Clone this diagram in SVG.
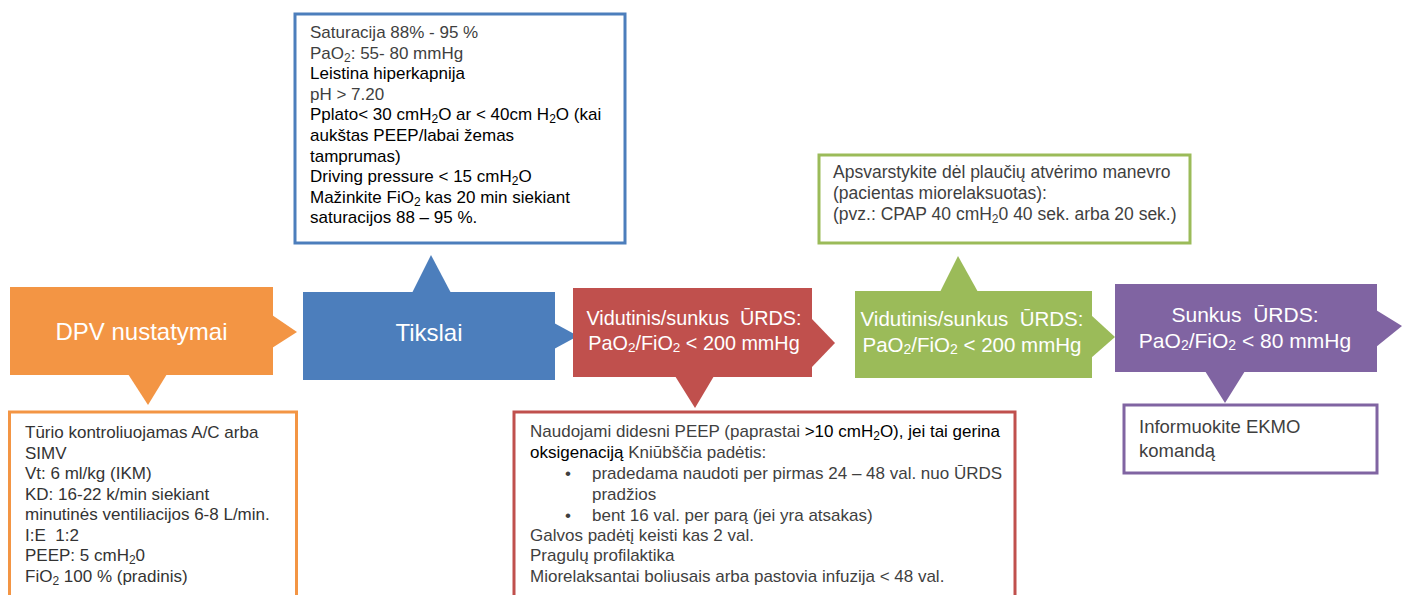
<svg xmlns="http://www.w3.org/2000/svg" width="1407" height="595" viewBox="0 0 1407 595">
<style>
text{font-family:"Liberation Sans",Arial,sans-serif}
.t{font-size:17px;fill:#000}
.g{fill:#3f3f3f}
.k{fill:#000}
.w{fill:#fff;text-anchor:middle}
.box{fill:#fff;stroke-width:3}
.or{fill:#F39544}.bl{fill:#4C7EBC}.rd{fill:#C0504D}.gr{fill:#9BBB59}.pu{fill:#8064A2}
</style>
<rect width="1407" height="595" fill="#fff"/>
<g id="connectors">
<polygon class="or" points="272,315 297,332 272,348"/>
<polygon class="or" points="128,374 148,405 167,374"/>
<polygon class="bl" points="554,323 578,336 554,349"/>
<polygon class="bl" points="412,293 431,255 451,293"/>
<polygon class="rd" points="811,318 835,343 811,368"/>
<polygon class="rd" points="675,376 695,408 714,376"/>
<polygon class="gr" points="1091,315 1115,337 1091,358"/>
<polygon class="gr" points="940,292 958,256 978,292"/>
<polygon class="pu" points="1376,310 1402,326 1376,347"/>
<polygon class="pu" points="1205,371 1225,403 1245,371"/>
</g>
<g id="dpv">
<rect class="or" x="10" y="287" width="263" height="88"/>
<text class="w" x="141.5" y="340" font-size="24">DPV nustatymai</text>
</g>
<g id="tikslai">
<rect class="bl" x="303" y="292" width="252" height="88"/>
<text class="w" x="429" y="341" font-size="24">Tikslai</text>
</g>
<g id="vidutinis1">
<rect class="rd" x="573" y="288" width="239" height="89"/>
<text class="w" x="694" y="325" font-size="19.8">Vidutinis/sunkus&#160; ŪRDS:</text>
<text class="w" x="694" y="350" font-size="19.8">PaO<tspan font-size="13.5" dy="2">2</tspan><tspan dy="-2">/FiO</tspan><tspan font-size="13.5" dy="2">2</tspan><tspan dy="-2"> &lt; 200 mmHg</tspan></text>
</g>
<g id="vidutinis2">
<rect class="gr" x="855" y="291" width="237" height="87"/>
<text class="w" x="972" y="326" font-size="20.5">Vidutinis/sunkus&#160; ŪRDS:</text>
<text class="w" x="972" y="352" font-size="20.5">PaO<tspan font-size="14" dy="2">2</tspan><tspan dy="-2">/FiO</tspan><tspan font-size="14" dy="2">2</tspan><tspan dy="-2"> &lt; 200 mmHg</tspan></text>
</g>
<g id="sunkus">
<rect class="pu" x="1115" y="284" width="262" height="88"/>
<text class="w" x="1245" y="322" font-size="21">Sunkus&#160; ŪRDS:</text>
<text class="w" x="1245" y="348" font-size="21">PaO<tspan font-size="14" dy="2">2</tspan><tspan dy="-2">/FiO</tspan><tspan font-size="14" dy="2">2</tspan><tspan dy="-2"> &lt; 80 mmHg</tspan></text>
</g>
<g id="tikslai-box">
<rect class="box" x="295" y="14" width="330" height="229" stroke="#4C7EBC"/>
<text class="t" x="310">
<tspan class="g" x="310" y="38">Saturacija 88% - 95 %</tspan>
<tspan class="g" x="310" y="58.6">PaO<tspan font-size="12" dy="3">2</tspan><tspan dy="-3">: 55- 80 mmHg</tspan></tspan>
<tspan class="k" x="310" y="79.2">Leistina hiperkapnija</tspan>
<tspan class="g" x="310" y="99.8">pH &gt; 7.20</tspan>
<tspan class="k" x="310" y="120.4">Pplato&lt; 30 cmH<tspan font-size="12" dy="3">2</tspan><tspan dy="-3">O ar &lt; 40cm H</tspan><tspan font-size="12" dy="3">2</tspan><tspan dy="-3">O (kai</tspan></tspan>
<tspan class="k" x="310" y="141">aukštas PEEP/labai žemas</tspan>
<tspan class="k" x="310" y="161.6">tamprumas)</tspan>
<tspan class="k" x="310" y="182.2">Driving pressure &lt; 15 cmH<tspan font-size="12" dy="3">2</tspan><tspan dy="-3">O</tspan></tspan>
<tspan class="k" x="310" y="202.8">Mažinkite FiO<tspan font-size="12" dy="3">2</tspan><tspan dy="-3"> kas 20 min siekiant</tspan></tspan>
<tspan class="k" x="310" y="223.4">saturacijos 88 – 95 %.</tspan>
</text>
</g>
<g id="dpv-box">
<rect class="box" x="9.5" y="412" width="287" height="200" stroke="#F39544"/>
<text class="t" fill="#333">
<tspan x="25" y="438" fill="#333">Tūrio kontroliuojamas A/C arba</tspan>
<tspan x="25" y="458.5" fill="#333">SIMV</tspan>
<tspan x="25" y="479" fill="#333">Vt: 6 ml/kg (IKM)</tspan>
<tspan x="25" y="499.5" fill="#333">KD: 16-22 k/min siekiant</tspan>
<tspan x="25" y="520" fill="#333">minutinės ventiliacijos 6-8 L/min.</tspan>
<tspan x="25" y="540.5" fill="#333">I:E&#160; 1:2</tspan>
<tspan x="25" y="561" fill="#333">PEEP: 5 cmH<tspan font-size="12" dy="3">2</tspan><tspan dy="-3">0</tspan></tspan>
<tspan x="25" y="581.5" fill="#333">FiO<tspan font-size="12" dy="3">2</tspan><tspan dy="-3"> 100 % (pradinis)</tspan></tspan>
</text>
</g>
<g id="vidutinis1-box">
<rect class="box" x="514" y="412" width="501" height="200" stroke="#C0504D"/>
<text class="t">
<tspan x="530" y="437"><tspan class="g">Naudojami didesni PEEP (paprastai </tspan><tspan class="k">&gt;10 cmH</tspan><tspan class="k" font-size="12" dy="3">2</tspan><tspan class="k" dy="-3">O), jei tai gerina</tspan></tspan>
<tspan x="530" y="458"><tspan class="k">oksigenaciją</tspan><tspan class="g"> Kniūbščia padėtis:</tspan></tspan>
<tspan class="g" x="565" y="479">•</tspan>
<tspan class="g" x="592" y="479">pradedama naudoti per pirmas 24 – 48 val. nuo ŪRDS</tspan>
<tspan class="g" x="592" y="500">pradžios</tspan>
<tspan class="g" x="565" y="521">•</tspan>
<tspan class="g" x="592" y="521">bent 16 val. per parą (jei yra atsakas)</tspan>
<tspan class="g" x="530" y="541">Galvos padėtį keisti kas 2 val.</tspan>
<tspan class="g" x="530" y="561">Pragulų profilaktika</tspan>
<tspan class="g" x="530" y="582">Miorelaksantai boliusais arba pastovia infuzija &lt; 48 val.</tspan>
</text>
</g>
<g id="vidutinis2-box">
<rect class="box" x="819" y="155" width="371" height="88" stroke="#9BBB59"/>
<text font-size="17.5" class="g">
<tspan x="833" y="178">Apsvarstykite dėl plaučių atvėrimo manevro</tspan>
<tspan x="833" y="199">(pacientas miorelaksuotas):</tspan>
<tspan x="833" y="220">(pvz.: CPAP 40 cmH<tspan font-size="12" dy="3">2</tspan><tspan dy="-3">0 40 sek. arba 20 sek.)</tspan></tspan>
</text>
</g>
<g id="sunkus-box">
<rect class="box" x="1124" y="405" width="253" height="68" stroke="#8064A2"/>
<text font-size="18.5" class="g">
<tspan x="1139" y="433">Informuokite EKMO</tspan>
<tspan x="1139" y="457">komandą</tspan>
</text>
</g>
</svg>
